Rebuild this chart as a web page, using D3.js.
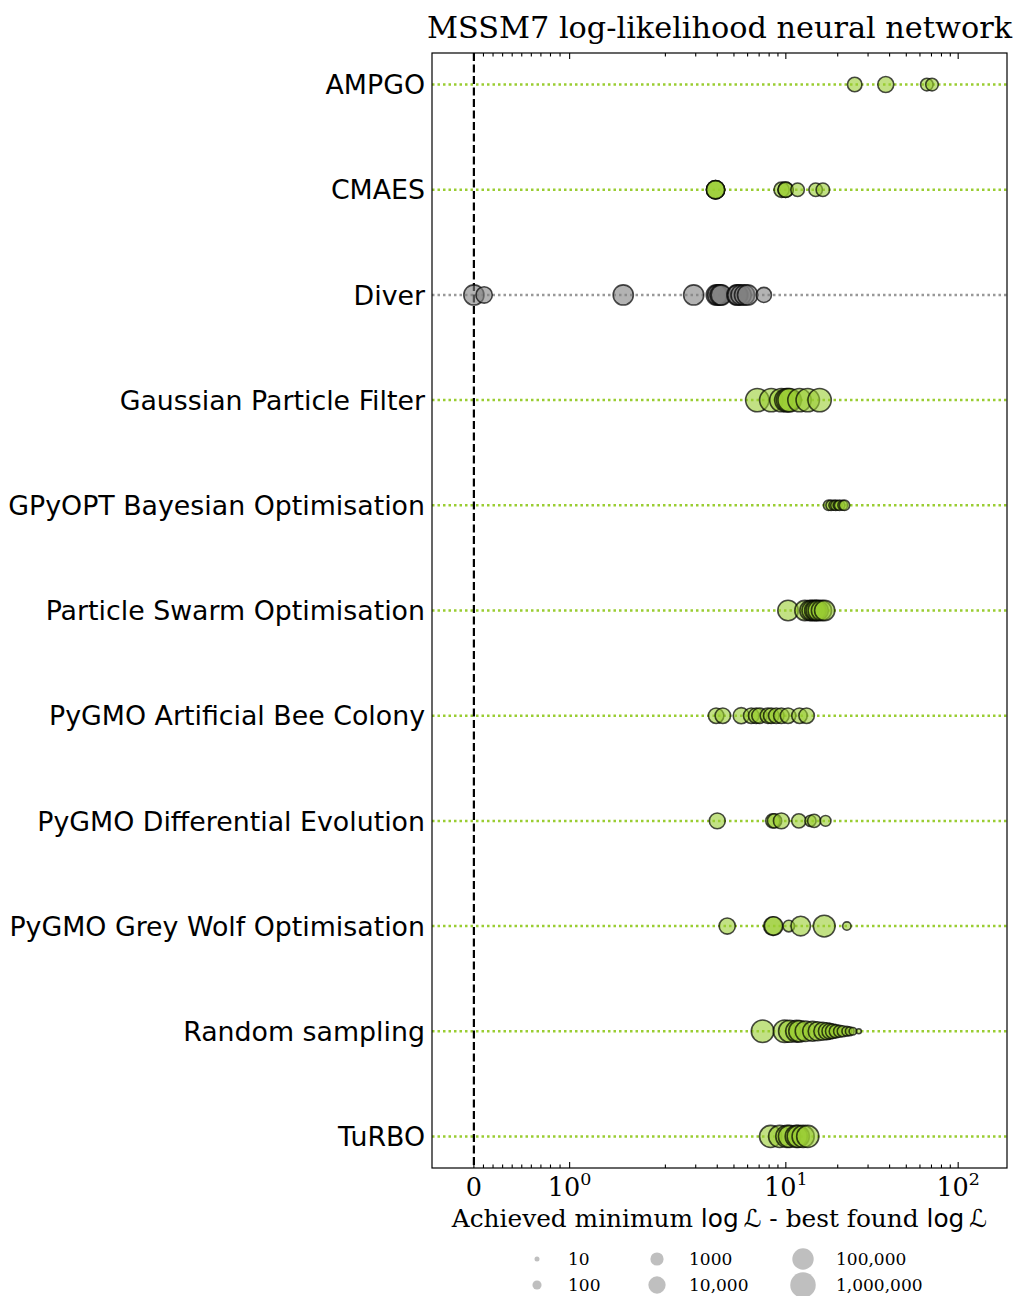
<!DOCTYPE html>
<html>
<head>
<meta charset="utf-8">
<script src="https://cdn.jsdelivr.net/npm/d3@7"></script>
<style>
  body { margin: 0; background: #fff; }
  svg text { fill: #000; }
</style>
</head>
<body>
<svg id="chart" width="1016" height="1296"></svg>
<script>
// Optimiser names, top to bottom
const methods = [
  "AMPGO",
  "CMAES",
  "Diver",
  "Gaussian Particle Filter",
  "GPyOPT Bayesian Optimisation",
  "Particle Swarm Optimisation",
  "PyGMO Artificial Bee Colony",
  "PyGMO Differential Evolution",
  "PyGMO Grey Wolf Optimisation",
  "Random sampling",
  "TuRBO"
];

// Achieved minimum log L minus best found log L, one entry per run
const ampgoDelta  = [25.1, 38.0, 65.8, 70.5];
const cmaesDelta  = [3.91, 3.91, 3.91, 9.45, 9.97, 9.97, 11.7, 14.9, 16.4];
const diverDelta  = [0, 0.107, 1.56, 2.92, 3.95, 4.03, 4.15, 4.22, 5.2, 5.27, 5.5, 5.76, 6.0, 7.46];
const gpfDelta    = [6.83, 8.23, 9.42, 10.07, 10.3, 10.52, 12.0, 13.4, 15.7];
const gpyoptDelta = [17.7, 18.3, 19.0, 19.5, 20.0, 20.5, 21.4, 21.9];
const psoDelta    = [10.3, 12.9, 13.8, 14.2, 14.7, 15.0, 15.4, 16.1, 16.8];
const abcDelta    = [3.94, 4.31, 5.51, 6.30, 6.73, 7.04, 7.87, 8.23, 8.80, 9.42, 10.3, 12.0, 13.2];
const deDelta     = [4.0, 8.41, 8.60, 9.42, 11.9, 13.9, 14.6, 17.0];
const gwoDelta    = [4.57, 8.41, 8.50, 10.4, 12.2, 16.7, 22.6];
const randomDelta = [7.33, 9.84, 10.52, 11.55, 12.0, 13.0, 14.3, 15.3, 16.4, 17.3, 18.0, 18.7, 19.5, 20.5, 21.4, 22.6, 23.5, 24.5, 26.5];
const turboDelta  = [8.16, 9.21, 10.14, 10.5, 11.5, 11.8, 12.6, 13.4];

// Number of likelihood evaluations used by each run
const ampgoEvals  = [2100, 4800, 700, 700];
const cmaesEvals  = [17000, 17000, 17000, 3200, 3200, 3200, 1200, 1200, 1200];
const diverEvals  = [50000, 6000, 50000, 50000, 50000, 50000, 50000, 50000, 50000, 50000, 50000, 50000, 50000, 3000];
const gpfEvals    = [300000, 300000, 300000, 300000, 300000, 300000, 300000, 300000, 300000];
const gpyoptEvals = [200, 200, 150, 200, 100, 200, 150, 200];
const psoEvals    = [60000, 50000, 50000, 50000, 50000, 50000, 50000, 50000, 50000];
const abcEvals    = [3600, 3600, 5000, 3600, 3600, 3600, 3600, 3600, 3600, 3600, 3600, 3600, 3600];
const deEvals     = [4400, 1800, 1800, 4400, 1800, 330, 1000, 260];
const gwoEvals    = [5300, 20000, 20000, 400, 35000, 120000, 70];
const randomEvals = [190000, 190000, 150000, 120000, 100000, 60000, 40000, 25000, 15000, 8000, 4000, 2000, 1000, 500, 300, 150, 80, 40, 10];
const turboEvals  = [150000, 150000, 150000, 150000, 150000, 150000, 150000, 150000];

const deltaSets = [ampgoDelta, cmaesDelta, diverDelta, gpfDelta, gpyoptDelta, psoDelta,
                   abcDelta, deDelta, gwoDelta, randomDelta, turboDelta];
const evalSets  = [ampgoEvals, cmaesEvals, diverEvals, gpfEvals, gpyoptEvals, psoEvals,
                   abcEvals, deEvals, gwoEvals, randomEvals, turboEvals];

// Axis ticks
const majorTicks = [0, 1, 10, 100];
const majorExponents = [null, "0", "1", "2"];
const minorTicks = [0.1, 0.2, 0.3, 0.4, 0.5, 0.6, 0.7, 0.8, 0.9,
                    2, 3, 4, 5, 6, 7, 8, 9,
                    20, 30, 40, 50, 60, 70, 80, 90];

// Marker-size legend
const legendCounts = [10, 100, 1000, 10000, 100000, 1000000];
const legendLabels = ["10", "100", "1000", "10,000", "100,000", "1,000,000"];

// ---------------------------------------------------------------------------
const svg = d3.select("#chart");
const plot = { left: 432, right: 1007, top: 53, bottom: 1168 };
const serif = "'DejaVu Serif', serif";
const sans = "'DejaVu Sans', sans-serif";

// Symmetric log transform: linear up to LINTHRESH, logarithmic beyond
const LINTHRESH = 2, LINSCALE = 1;
const linAdj = LINSCALE / (1 - 1 / 10);
const symlog = v => {
  const a = Math.abs(v);
  return a <= LINTHRESH ? v * linAdj
    : Math.sign(v) * LINTHRESH * (linAdj + Math.log10(a / LINTHRESH));
};
const xDomain = [-0.4375, 192];
const xLin = d3.scaleLinear().domain(xDomain.map(symlog)).range([plot.left, plot.right]);
const x = v => xLin(symlog(v));

const y = d3.scaleLinear()
  .domain([-0.3, methods.length - 1 + 0.3])
  .range([plot.top, plot.bottom]);

// Marker radius grows with the decade of the evaluation count
const rScale = d3.scaleLinear().domain([1, 6]).range([2.5, 12.75]);
const radius = n => rScale(Math.log10(n));

const green = "#9acd32";
const grey = "#808080";
const colourFor = m => (m === "Diver" ? grey : green);

// Dotted guide line for every optimiser
svg.append("g").selectAll("line")
  .data(methods)
  .join("line")
  .attr("x1", plot.left).attr("x2", plot.right)
  .attr("y1", (d, i) => y(i)).attr("y2", (d, i) => y(i))
  .attr("stroke", d => (d === "Diver" ? "#999999" : green))
  .attr("stroke-width", 2.5)
  .attr("stroke-dasharray", "2.5,3");

// Dashed reference line at zero difference
svg.append("line")
  .attr("x1", x(0)).attr("x2", x(0))
  .attr("y1", plot.top).attr("y2", plot.bottom)
  .attr("stroke", "#000")
  .attr("stroke-width", 2.2)
  .attr("stroke-dasharray", "8,3.5");

// Runs
const runs = [];
methods.forEach((m, i) => {
  deltaSets[i].forEach((d, j) => runs.push({ method: m, row: i, delta: d, evals: evalSets[i][j] }));
});

svg.append("g").selectAll("circle")
  .data(runs)
  .join("circle")
  .attr("cx", d => x(d.delta))
  .attr("cy", d => y(d.row))
  .attr("r", d => radius(d.evals))
  .attr("fill", d => colourFor(d.method))
  .attr("fill-opacity", 0.6)
  .attr("stroke", "#000")
  .attr("stroke-opacity", 0.7)
  .attr("stroke-width", 1.6);

// Frame
svg.append("rect")
  .attr("x", plot.left).attr("y", plot.top)
  .attr("width", plot.right - plot.left).attr("height", plot.bottom - plot.top)
  .attr("fill", "none").attr("stroke", "#000").attr("stroke-width", 1.2);

// Inward ticks on the bottom and top edges
const tickG = svg.append("g").attr("stroke", "#000").attr("stroke-width", 1.1);
const drawTicks = (vals, len) => {
  tickG.selectAll(null).data(vals).join("line")
    .attr("x1", d => x(d)).attr("x2", d => x(d))
    .attr("y1", plot.bottom).attr("y2", plot.bottom - len);
  tickG.selectAll(null).data(vals).join("line")
    .attr("x1", d => x(d)).attr("x2", d => x(d))
    .attr("y1", plot.top).attr("y2", plot.top + len);
};
drawTicks(majorTicks, 6);
drawTicks(minorTicks, 3.5);

// Tick labels
const tl = svg.append("g").selectAll("text")
  .data(majorTicks)
  .join("text")
  .attr("x", d => x(d))
  .attr("y", 1196)
  .attr("text-anchor", "middle")
  .attr("font-family", serif)
  .attr("font-size", 25.5);
tl.each(function (d, i) {
  const t = d3.select(this);
  if (majorExponents[i] === null) {
    t.text("0");
  } else {
    t.append("tspan").text("10");
    t.append("tspan").attr("font-size", 17.5).attr("dy", -11).text(majorExponents[i]);
  }
});

// Category labels
svg.append("g").selectAll("text")
  .data(methods)
  .join("text")
  .attr("x", 425)
  .attr("y", (d, i) => y(i))
  .attr("dy", "0.36em")
  .attr("text-anchor", "end")
  .attr("font-family", sans)
  .attr("font-size", 26.8)
  .text(d => d);

// Title
svg.append("text")
  .attr("x", (plot.left + plot.right) / 2).attr("y", 38)
  .attr("text-anchor", "middle")
  .attr("font-family", serif).attr("font-size", 30.3)
  .text("MSSM7 log-likelihood neural network");

// Axis label
const xl = svg.append("text")
  .attr("x", (plot.left + plot.right) / 2).attr("y", 1227)
  .attr("text-anchor", "middle")
  .attr("font-family", serif).attr("font-size", 24.8);
xl.append("tspan").text("Achieved minimum ");
xl.append("tspan").attr("font-family", sans).text("log\u2009");
xl.append("tspan").attr("font-family", sans).attr("font-style", "italic").text("\u2112");
xl.append("tspan").text(" - best found ");
xl.append("tspan").attr("font-family", sans).text("log\u2009");
xl.append("tspan").attr("font-family", sans).attr("font-style", "italic").text("\u2112");

// Size legend: three columns, two rows
const legendCols = [537, 657, 803];
const legendTextCols = [568, 689, 836];
const legendRows = [1259, 1285];
const lg = svg.append("g").selectAll("g")
  .data(legendCounts)
  .join("g")
  .attr("transform", (d, i) => `translate(0,${legendRows[i % 2]})`);
lg.append("circle")
  .attr("cx", (d, i) => legendCols[Math.floor(i / 2)])
  .attr("cy", 0)
  .attr("r", d => radius(d))
  .attr("fill", grey)
  .attr("fill-opacity", 0.5);
lg.append("text")
  .attr("x", (d, i) => legendTextCols[Math.floor(i / 2)])
  .attr("y", 0)
  .attr("dy", "0.36em")
  .attr("font-family", serif)
  .attr("font-size", 17)
  .text((d, i) => legendLabels[i]);
</script>
</body>
</html>
